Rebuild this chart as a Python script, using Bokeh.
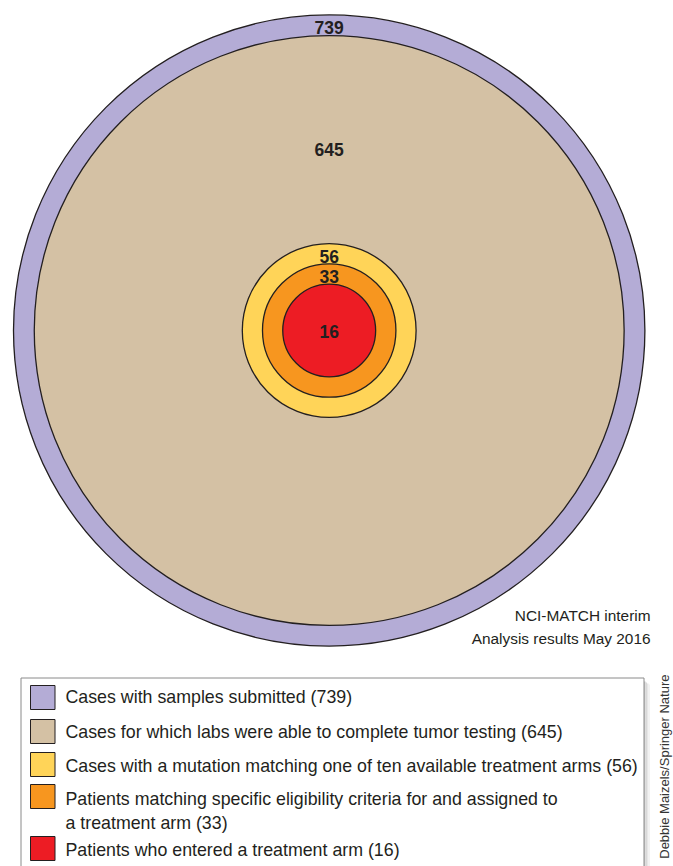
import math
from bokeh.plotting import figure
from bokeh.models import Range1d, ColumnDataSource
from bokeh.core.properties import value
from bokeh.embed import file_html
from bokeh.resources import INLINE

# ---- data ----
counts = [739, 645, 56, 33, 16]
count_labels = ["739", "645", "56", "33", "16"]
fill_colors = ["#b4acd6", "#d4c1a4", "#ffd458", "#f7961f", "#ed1c24"]
legend_lines = [
    ["Cases with samples submitted (739)"],
    ["Cases for which labs were able to complete tumor testing (645)"],
    ["Cases with a mutation matching one of ten available treatment arms (56)"],
    ["Patients matching specific eligibility criteria for and assigned to",
     "a treatment arm (33)"],
    ["Patients who entered a treatment arm (16)"],
]
note_lines = ["NCI-MATCH interim", "Analysis results May 2016"]
credit = "Debbie Maizels/Springer Nature"

# ---- layout constants (page pixels) ----
FONT = "Liberation Sans"
INK = "#231f20"
cx, cy = 328.7, 330.0
outer_r_px = 315.7
k = outer_r_px / math.sqrt(max(counts))

p = figure(width=673, height=866, x_range=Range1d(0, 673), y_range=Range1d(866, 0),
           output_backend="svg", toolbar_location=None, min_border=0,
           outline_line_color=None)
p.axis.visible = False
p.grid.visible = False
p.background_fill_color = "white"
p.border_fill_color = "white"

radii = [k * math.sqrt(v) for v in counts]
src = ColumnDataSource(dict(x=[cx] * len(counts), y=[cy] * len(counts),
                            r=radii, c=fill_colors))
p.circle(x="x", y="y", radius="r", fill_color="c", line_color=INK,
         line_width=1.3, source=src)

# labels: ring midpoints, 645 placed in upper part of its ring, 16 in centre
lab_y = []
for i, r in enumerate(radii):
    if i == len(radii) - 1:
        lab_y.append(cy)
    elif i == 1:
        lab_y.append(cy - (radii[1] + radii[2]) / 2 + 9)
    else:
        lab_y.append(cy - (r + radii[i + 1]) / 2 + 1.5)
lab_y = [y + 1 for y in lab_y]
p.text(x=[cx] * len(counts), y=lab_y, text=count_labels, text_font=value(FONT),
       text_font_size="17.5px", text_font_style="bold", text_color=INK,
       text_align="center", text_baseline="middle")

# note bottom right
p.text(x=[650, 650], y=[615, 638], text=note_lines, text_font=value(FONT),
       text_font_size="15.4px", text_color=INK, text_align="right",
       text_baseline="middle")

# legend box with a soft shadow
for i, col in enumerate(["#c8c8c8", "#d8d8d8", "#e6e6e6", "#f2f2f2"]):
    p.quad(left=[643.5 + i * 1.5], right=[645 + i * 1.5], top=[681 + i], bottom=[900],
           fill_color=col, line_color=None)
p.quad(left=[20.5], right=[643.5], top=[677.5], bottom=[900], fill_color="white",
       line_color="#8a8a8a", line_width=1)

sw_y = [697, 731, 764, 796, 848]
row_text_y = [[696], [731], [765], [798, 822], [849]]
p.quad(left=[30] * 5, right=[54.5] * 5, top=[y - 12 for y in sw_y],
       bottom=[y + 12 for y in sw_y], fill_color=fill_colors, line_color=INK,
       line_width=1)
tx, ty, tt = [], [], []
for lines, ys in zip(legend_lines, row_text_y):
    for t, y in zip(lines, ys):
        tx.append(65)
        ty.append(y)
        tt.append(t)
p.text(x=tx, y=ty, text=tt, text_font=value(FONT), text_font_size="17.8px",
       text_color=INK, text_align="left", text_baseline="middle")

# vertical credit (kept fully inside the page)
p.text(x=[664], y=[674], text=[credit], angle=math.pi / 2, text_font=value(FONT),
       text_font_size="13px", text_color="#333333", text_align="right",
       text_baseline="middle")

open("out.html", "w").write(file_html(p, INLINE))
